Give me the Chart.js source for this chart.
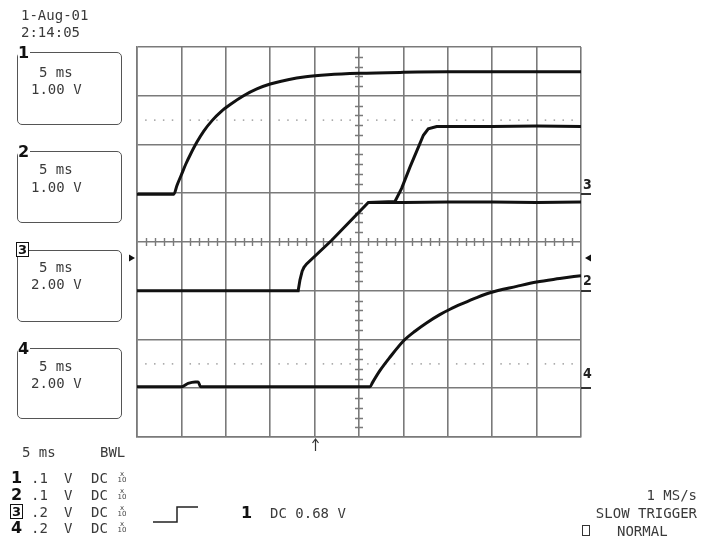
<!DOCTYPE html>
<html><head><meta charset="utf-8">
<script src="https://cdn.jsdelivr.net/npm/chart.js@4.4.0/dist/chart.umd.min.js"></script>
<style>
html,body{margin:0;padding:0;background:#fff;}
#wrap{position:relative;width:708px;height:552px;overflow:hidden;background:#fff;}
#c{position:absolute;left:0;top:0;}
.t{position:absolute;font-family:"DejaVu Sans Mono",monospace;font-size:14px;color:#3a3a3a;line-height:14px;white-space:pre;}
.box{position:absolute;border:1.5px solid #555;border-radius:5px;box-sizing:border-box;}
.n{position:absolute;font-family:"DejaVu Sans",sans-serif;font-weight:bold;font-size:16px;color:#111;line-height:16px;background:#fff;padding-right:1px;}
.nb{position:absolute;font-family:"DejaVu Sans",sans-serif;font-weight:bold;font-size:13px;color:#111;line-height:13px;background:#fff;border:1.5px solid #111;padding:0 1px;}
.x10{position:absolute;font-family:"DejaVu Sans",sans-serif;font-size:7px;color:#444;line-height:6px;text-align:center;width:10px;}
.mk{position:absolute;font-family:"DejaVu Sans Condensed","DejaVu Sans",sans-serif;font-weight:bold;font-size:14px;color:#222;line-height:14px;}
.ul{position:absolute;height:1.5px;background:#333;}
</style></head>
<body>
<div id="wrap">
<canvas id="c" width="708" height="552"></canvas>

<div class="t" style="left:21px;top:8px;">1-Aug-01</div>
<div class="t" style="left:21px;top:25px;">2:14:05</div>

<div class="box" style="left:17px;top:52px;width:105px;height:73px;"></div>
<div class="n" style="left:18px;top:45px;">1</div>
<div class="t" style="left:39px;top:65px;">5 ms</div>
<div class="t" style="left:31px;top:82px;">1.00 V</div>

<div class="box" style="left:17px;top:151px;width:105px;height:72px;"></div>
<div class="n" style="left:18px;top:144px;">2</div>
<div class="t" style="left:39px;top:162px;">5 ms</div>
<div class="t" style="left:31px;top:180px;">1.00 V</div>

<div class="box" style="left:17px;top:250px;width:105px;height:72px;"></div>
<div class="nb" style="left:16px;top:242px;">3</div>
<div class="t" style="left:39px;top:260px;">5 ms</div>
<div class="t" style="left:31px;top:277px;">2.00 V</div>

<div class="box" style="left:17px;top:348px;width:105px;height:71px;"></div>
<div class="n" style="left:18px;top:341px;">4</div>
<div class="t" style="left:39px;top:359px;">5 ms</div>
<div class="t" style="left:31px;top:376px;">2.00 V</div>

<div class="t" style="left:22px;top:445px;">5 ms</div>
<div class="t" style="left:100px;top:445px;">BWL</div>

<div class="n" style="left:11px;top:470px;">1</div>
<div class="t" style="left:31px;top:471px;">.1</div><div class="t" style="left:64px;top:471px;">V</div><div class="t" style="left:91px;top:471px;">DC</div>
<div class="x10" style="left:117px;top:471px;">x<br>10</div>
<div class="n" style="left:11px;top:487px;">2</div>
<div class="t" style="left:31px;top:488px;">.1</div><div class="t" style="left:64px;top:488px;">V</div><div class="t" style="left:91px;top:488px;">DC</div>
<div class="x10" style="left:117px;top:488px;">x<br>10</div>
<div class="nb" style="left:10px;top:504px;">3</div>
<div class="t" style="left:31px;top:505px;">.2</div><div class="t" style="left:64px;top:505px;">V</div><div class="t" style="left:91px;top:505px;">DC</div>
<div class="x10" style="left:117px;top:505px;">x<br>10</div>
<div class="n" style="left:11px;top:520px;">4</div>
<div class="t" style="left:31px;top:521px;">.2</div><div class="t" style="left:64px;top:521px;">V</div><div class="t" style="left:91px;top:521px;">DC</div>
<div class="x10" style="left:117px;top:521px;">x<br>10</div>

<svg style="position:absolute;left:0;top:0;" width="708" height="552"><polyline points="153,522 177,522 177,507 198,507" fill="none" stroke="#222" stroke-width="1.5"/></svg>

<div class="n" style="left:241px;top:505px;">1</div>
<div class="t" style="left:270px;top:506px;">DC 0.68 V</div>

<div class="t" style="right:11px;top:488px;">1 MS/s</div>
<div class="t" style="right:11px;top:506px;">SLOW TRIGGER</div>
<div style="position:absolute;left:582px;top:525px;width:8px;height:11px;border:1.5px solid #333;box-sizing:border-box;"></div>
<div class="t" style="left:617px;top:524px;">NORMAL</div>

<div class="mk" style="left:583px;top:177px;">3</div><div class="ul" style="left:581px;top:193px;width:10px;"></div>
<div class="mk" style="left:583px;top:273px;">2</div><div class="ul" style="left:581px;top:290px;width:10px;"></div>
<div class="mk" style="left:583px;top:366px;">4</div><div class="ul" style="left:581px;top:387px;width:10px;"></div>
</div>

<script>
// Horizontal positions in screen divisions (5 ms/div), vertical in divisions
const trace1X = [0, 0.83, 0.9, 1.0, 1.1, 1.2, 1.35, 1.5, 1.7, 1.9, 2.1, 2.4, 2.7, 3.0, 3.4, 3.8, 4.3, 5.0, 6.0, 7.0, 8.0, 9.0, 10.0];
const trace1Y = [0.98, 0.98, 1.16, 1.38, 1.6, 1.79, 2.05, 2.27, 2.5, 2.68, 2.82, 3.0, 3.14, 3.24, 3.33, 3.39, 3.43, 3.46, 3.48, 3.49, 3.49, 3.49, 3.49];

const trace2X = [0, 3.63, 3.67, 3.72, 3.76, 3.82, 4.38, 5.21, 6.0, 7.0, 8.0, 9.0, 10.0];
const trace2Y = [-1.0, -1.0, -0.78, -0.6, -0.52, -0.45, 0.03, 0.81, 0.81, 0.82, 0.82, 0.81, 0.82];

const trace3X = [5.21, 5.81, 5.96, 6.15, 6.34, 6.45, 6.56, 6.75, 7.0, 8.0, 9.0, 10.0];
const trace3Y = [0.81, 0.83, 1.10, 1.54, 1.95, 2.19, 2.32, 2.37, 2.37, 2.37, 2.38, 2.37];

const trace4X = [0, 1.0, 1.15, 1.31, 1.38, 1.43, 5.25, 5.3, 5.47, 5.70, 6.0, 6.26, 6.52, 6.82, 7.05, 7.34, 7.65, 7.95, 8.55, 9.0, 9.52, 10.0];
const trace4Y = [-2.97, -2.97, -2.9, -2.87, -2.87, -2.97, -2.97, -2.89, -2.64, -2.36, -2.03, -1.83, -1.66, -1.49, -1.38, -1.26, -1.14, -1.04, -0.91, -0.82, -0.75, -0.69];

const dottedLevels = [2.5, -2.5];
const triggerLevel = -0.33;
const triggerPos = 4.0;

function pts(xs, ys) { return xs.map((v, i) => ({x: v, y: ys[i]})); }

const gridColor = '#7a7a7a';

const scopePlugin = {
  id: 'scope',
  beforeDatasetsDraw(chart) {
    const {ctx, scales: {x, y}} = chart;
    ctx.save();
    ctx.strokeStyle = gridColor;
    ctx.lineWidth = 1.4;
    ctx.beginPath();
    const y0 = y.getPixelForValue(0);
    for (let k = 1; k < 50; k++) {
      if (k % 5 === 0) continue;
      const px = Math.round(x.getPixelForValue(k / 5)) + 0.5;
      ctx.moveTo(px, y0 - 4); ctx.lineTo(px, y0 + 4);
    }
    const x5 = x.getPixelForValue(5);
    for (let k = -19; k < 20; k++) {
      if (k % 5 === 0) continue;
      const py = Math.round(y.getPixelForValue(k / 5)) + 0.5;
      ctx.moveTo(x5 - 4, py); ctx.lineTo(x5 + 4, py);
    }
    ctx.stroke();
    ctx.fillStyle = '#a0a0a0';
    for (const lv of dottedLevels) {
      const py = y.getPixelForValue(lv);
      for (let k = 1; k < 50; k++) {
        if (k % 5 === 0) continue;
        const px = x.getPixelForValue(k / 5);
        ctx.fillRect(px - 0.75, py - 0.75, 1.5, 1.5);
      }
    }
    ctx.restore();
  },
  afterDatasetsDraw(chart) {
    const {ctx, chartArea: a, scales: {x, y}} = chart;
    ctx.save();
    ctx.fillStyle = '#111';
    const ty = y.getPixelForValue(triggerLevel);
    ctx.beginPath();
    ctx.moveTo(a.left - 2, ty); ctx.lineTo(a.left - 8, ty - 3.5); ctx.lineTo(a.left - 8, ty + 3.5); ctx.closePath(); ctx.fill();
    ctx.beginPath();
    ctx.moveTo(a.right + 4, ty); ctx.lineTo(a.right + 10, ty - 3.5); ctx.lineTo(a.right + 10, ty + 3.5); ctx.closePath(); ctx.fill();
    const tx = Math.round(x.getPixelForValue(triggerPos)) + 0.5;
    ctx.strokeStyle = '#333'; ctx.lineWidth = 1.2;
    ctx.beginPath();
    ctx.moveTo(tx, a.bottom + 2); ctx.lineTo(tx, a.bottom + 14);
    ctx.moveTo(tx - 3, a.bottom + 6); ctx.lineTo(tx, a.bottom + 2); ctx.lineTo(tx + 3, a.bottom + 6);
    ctx.stroke();
    ctx.restore();
  }
};

const traceStyle = {borderColor: '#111', borderWidth: 3, pointRadius: 0, tension: 0, fill: false};
const smoothStyle = Object.assign({}, traceStyle, {cubicInterpolationMode: 'monotone'});

new Chart(document.getElementById('c'), {
  type: 'line',
  data: {
    datasets: [
      Object.assign({label: 'A', data: pts(trace1X, trace1Y)}, smoothStyle),
      Object.assign({label: 'B', data: pts(trace2X, trace2Y)}, traceStyle),
      Object.assign({label: 'C', data: pts(trace3X, trace3Y)}, traceStyle),
      Object.assign({label: 'D', data: pts(trace4X, trace4Y)}, smoothStyle)
    ]
  },
  options: {
    responsive: false,
    animation: false,
    devicePixelRatio: 1,
    layout: {padding: {left: 137, right: 127, top: 47, bottom: 115}},
    plugins: {legend: {display: false}, tooltip: {enabled: false}},
    scales: {
      x: {type: 'linear', min: 0, max: 10,
          ticks: {display: false, stepSize: 1},
          grid: {color: gridColor, lineWidth: 1.6, drawTicks: false},
          border: {display: true, color: gridColor, width: 1.6}},
      y: {type: 'linear', min: -4, max: 4,
          ticks: {display: false, stepSize: 1},
          grid: {color: gridColor, lineWidth: 1.6, drawTicks: false},
          border: {display: true, color: gridColor, width: 1.6}}
    }
  },
  plugins: [scopePlugin]
});
</script>
</body></html>
